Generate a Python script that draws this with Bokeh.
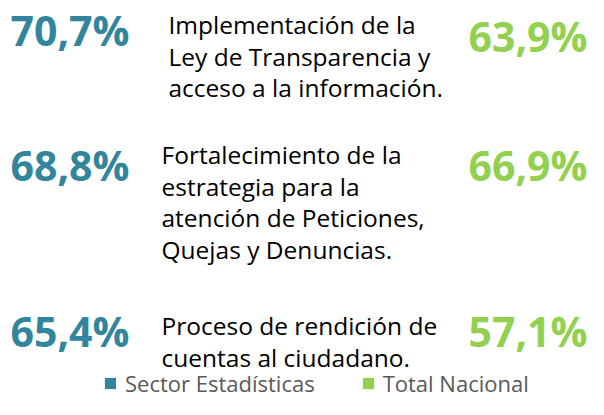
from bokeh.plotting import figure
from bokeh.models import Range1d, Legend, LegendItem, ColumnDataSource
from bokeh.core.properties import value
from bokeh.embed import file_html
from bokeh.resources import INLINE

# ---- data ----
categories = [
    "Implementación de la\nLey de Transparencia y\nacceso a la información.",
    "Fortalecimiento de la\nestrategia para la\natención de Peticiones,\nQuejas y Denuncias.",
    "Proceso de rendición de\ncuentas al ciudadano.",
]
sector_values = [70.7, 68.8, 65.4]
nacional_values = [63.9, 66.9, 57.1]
series_names = ["Sector Estadísticas", "Total Nacional"]

# ---- style / layout ----
TEAL = "#31859C"
GREEN = "#92D050"
FONT = "Open Sans"
W, H = 588, 399
NUM_SHIFT = 18   # baseline correction for the big numbers
TXT_SHIFT = 9    # baseline correction for the body text
left_base = [47, 182, 348]
right_base = [53, 182, 348]
text_base = [33, 163, 334]
text_x = [168, 161, 161]
line_gap = 31.5


def fmt(v):
    return f"{v:.1f}".replace(".", ",") + "%"


p = figure(width=W, height=H, output_backend="svg", toolbar_location=None,
           x_range=Range1d(0, W), y_range=Range1d(H, 0),
           min_border=0, outline_line_color=None)
p.axis.visible = False
p.grid.visible = False
p.background_fill_color = "white"
p.border_fill_color = "white"

src_left = ColumnDataSource(dict(x=[10] * len(sector_values),
                                 y=[b - NUM_SHIFT for b in left_base],
                                 t=[fmt(v) for v in sector_values]))
p.text(x="x", y="y", text="t", source=src_left, text_color=TEAL,
       text_font=value(FONT), text_font_style="bold", text_font_size="41px",
       text_align="left", text_baseline="alphabetic")

src_right = ColumnDataSource(dict(x=[587] * len(nacional_values),
                                  y=[b - NUM_SHIFT for b in right_base],
                                  t=[fmt(v) for v in nacional_values]))
p.text(x="x", y="y", text="t", source=src_right, text_color=GREEN,
       text_font=value(FONT), text_font_style="bold", text_font_size="41px",
       text_align="right", text_baseline="alphabetic")

xs, ys, ts = [], [], []
for i, cat in enumerate(categories):
    for j, line in enumerate(cat.split("\n")):
        xs.append(text_x[i])
        ys.append(text_base[i] + j * line_gap - TXT_SHIFT)
        ts.append(line)
p.text(x=xs, y=ys, text=ts, text_color="black", text_font=value(FONT),
       text_font_size="24.5px", text_align="left", text_baseline="alphabetic")

r1 = p.vbar(x=[-100], top=[0], width=1, fill_color=TEAL, line_color=None)
r2 = p.vbar(x=[-100], top=[0], width=1, fill_color=GREEN, line_color=None)
legend = Legend(items=[LegendItem(label=series_names[0], renderers=[r1]),
                       LegendItem(label=series_names[1], renderers=[r2])],
                orientation="horizontal", location=(103, 1),
                border_line_color=None, background_fill_alpha=0,
                padding=0, margin=0, spacing=46, glyph_width=14, glyph_height=14,
                label_standoff=8, label_text_font=FONT, label_text_font_size="22px",
                label_text_color="#595959", label_height=14)
p.add_layout(legend, "center")

open("out.html", "w").write(file_html(p, INLINE))
